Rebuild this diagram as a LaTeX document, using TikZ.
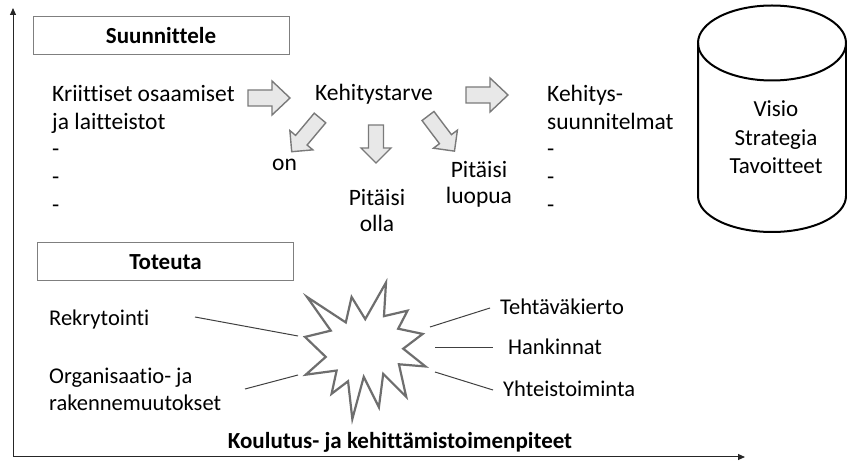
\documentclass[tikz,border=0pt]{standalone}
\usepackage{fontspec}
\setmainfont{Carlito}[Ligatures={NoCommon}]
\usetikzlibrary{arrows.meta}

\definecolor{framegray}{HTML}{7F7F7F}
\definecolor{arrowfill}{HTML}{E8E8E8}
\definecolor{arrowline}{HTML}{7A7A7A}
\definecolor{stargray}{HTML}{6E6E6E}
\definecolor{linkgray}{HTML}{404040}

\tikzset{
  txt/.style={font=\fontsize{23.5}{27.8}\selectfont, inner sep=0pt, text=black},
  lowtxt/.style={font=\fontsize{22.5}{27}\selectfont, inner sep=0pt, text=black},
  boldtxt/.style={font=\fontsize{23}{26}\selectfont\bfseries, inner sep=0pt, text=black},
  titlebox/.style={boldtxt, draw=framegray, line width=1pt, minimum width=256pt, minimum height=38pt},
  arrowshape/.style={draw=arrowline, fill=arrowfill, line width=1.4pt, line join=miter},
  link/.style={draw=linkgray, line width=1pt},
  axis/.style={draw=black!85, line width=1pt, -{Triangle[length=7pt,width=6pt]}},
  % block arrow pointing along local +x; argument = total length
  pics/bigarrow/.style={code={
    \path[arrowshape] (0,-8) -- ({#1-18},-8) -- ({#1-18},-17) -- (#1,0)
      -- ({#1-18},17) -- ({#1-18},8) -- (0,8) -- cycle;}},
  pics/smallarrow/.style={code={
    \path[arrowshape] (0,-7.5) -- ({#1-15},-7.5) -- ({#1-15},-15) -- (#1,0)
      -- ({#1-15},15) -- ({#1-15},7.5) -- (0,7.5) -- cycle;}},
}

\begin{document}
\begin{tikzpicture}[x=1pt, y=-1pt]
\useasboundingbox (0,0) rectangle (847,462);

% axes
\coordinate (origin) at (13,457);
\coordinate (ytop) at (13,8);
\coordinate (xend) at (745,457);
\draw[axis] (origin) -- (ytop);
\draw[axis] (origin) -- (xend);

% planning part (multi-line texts are placed by the baseline of their last line)
\node[titlebox] (plan) at (161,36) {Suunnittele};

\node[txt, anchor=base west, align=left] (critical) at (52,212.5)
  {Kriittiset osaamiset\\ja laitteistot\\-\\-\\-};
\node[txt, anchor=base] (need) at (374,101) {Kehitystarve};
\node[txt, anchor=base west] (on) at (272,171) {on};
\node[txt, anchor=base, align=center, font=\fontsize{23.5}{26.5}\selectfont] (should) at (377,232) {Pitäisi\\olla};
\node[txt, anchor=base, align=center, font=\fontsize{23.5}{26.5}\selectfont] (drop) at (479,204) {Pitäisi\\luopua};
\node[txt, anchor=base west, align=left] (plans) at (547,212.5)
  {Kehitys-\\suunnitelmat\\-\\-\\-};

\pic at (248,98) {bigarrow=42};
\pic at (466,95) {bigarrow=42};
\pic[rotate=230] at (320,118) {smallarrow=44};
\pic[rotate=270] at (376,125) {smallarrow=38};
\pic[rotate=-53] at (428,116) {smallarrow=44};

% vision cylinder
\draw[line width=2pt, black] (698,43) -- (698,196)
  arc[start angle=180, end angle=360, x radius=74pt, y radius=36pt] -- (846,43);
\draw[line width=2pt, black] (772,43) ellipse[x radius=74pt, y radius=37.5pt];
\node[txt, anchor=base, align=center, font=\fontsize{23}{28.5}\selectfont] (vision) at (776,174)
  {Visio\\Strategia\\Tavoitteet};

% implementation part
\node[titlebox] (do) at (165.5,262) {Toteuta};

\node[lowtxt, anchor=base west] (recruit) at (49,326) {Rekrytointi};
\node[lowtxt, anchor=base west, align=left] (org) at (49,411)
  {Organisaatio- ja\\rakennemuutokset};
\node[lowtxt, anchor=base west] (rotation) at (500,315) {Tehtäväkierto};
\node[lowtxt, anchor=base west] (purchase) at (508,355) {Hankinnat};
\node[lowtxt, anchor=base west] (coop) at (503,397) {Yhteistoiminta};

% explosion outline
\begin{scope}[shift={(305,282.5)}, x=0.5579pt, y=-0.6319pt]
  \coordinate (star) at (108,108);
  \draw[stargray, line width=2.2pt, line join=miter, fill=white]
    (108,58) -- (145.22,0) -- (141.55,53.25) -- (183.80,44.57) -- (167.02,73.15)
    -- (210.97,81.37) -- (176.07,104.75) -- (216,132.90) -- (168.37,129.42)
    -- (181.45,180.95) -- (140.20,144.57) -- (132.47,197.37) -- (105.32,149.35)
    -- (84.85,216) -- (77.15,156.27) -- (47.62,176.17) -- (56.67,139.37)
    -- (1.35,145.87) -- (37.22,117.75) -- (0,86.15) -- (46.27,76.17)
    -- (3.70,22.95) -- (73.12,63.20) -- (83.52,22.95) -- cycle;
\end{scope}

% connectors between the activities and the explosion
\coordinate (recruitEnd) at (195,317);
\coordinate (recruitStar) at (298,336);
\coordinate (orgEnd) at (245,389);
\coordinate (orgStar) at (298,375);
\coordinate (rotStar) at (430,327);
\coordinate (rotEnd) at (490,308);
\coordinate (purStar) at (435,348);
\coordinate (purEnd) at (493,348);
\coordinate (coopStar) at (435,372);
\coordinate (coopEnd) at (493,390);
\draw[link] (recruitEnd) -- (recruitStar);
\draw[link] (orgEnd) -- (orgStar);
\draw[link] (rotStar) -- (rotEnd);
\draw[link] (purStar) -- (purEnd);
\draw[link] (coopStar) -- (coopEnd);

\node[boldtxt, anchor=base] (training) at (400,449) {Koulutus- ja kehittämistoimenpiteet};
\end{tikzpicture}
\end{document}
